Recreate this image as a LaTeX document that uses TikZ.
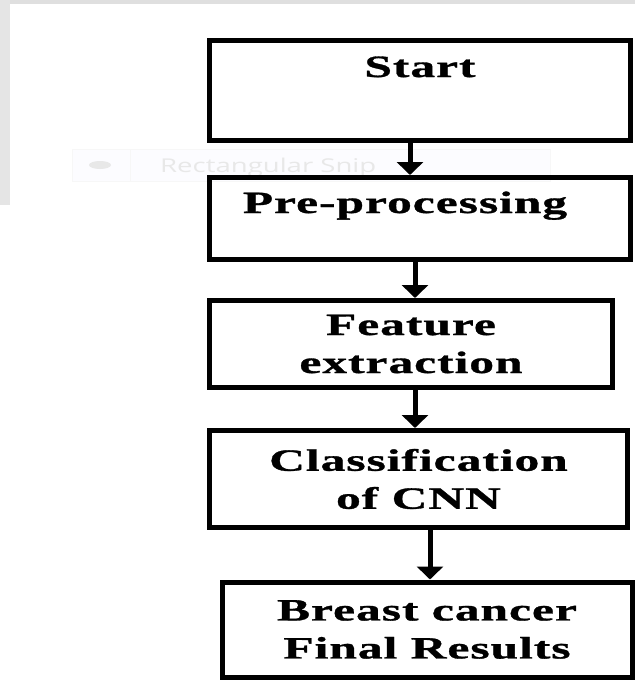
\documentclass[tikz,border=0pt]{standalone}
\usepackage{fontspec}
\setmainfont{Liberation Serif}
\newfontfamily\boxfont[FakeStretch=1.6,LetterSpace=3,FakeBold=1]{Liberation Serif}
\newfontfamily\snipfont[FakeStretch=1.45]{Open Sans}
\usetikzlibrary{arrows.meta}
\definecolor{snipgray}{HTML}{E8E8E8}
\tikzset{every picture/.style = {x=1pt, y=-1pt}}
\tikzset{stage/.style = {draw, line width=5pt, rectangle, inner sep=0, align=center,
    font=\boxfont\bfseries\fontsize{31}{38}\selectfont}}
\tikzset{flow/.style = {line width=5pt, -{Triangle[width=26pt, length=13pt]}}}

\begin{document}
\begin{tikzpicture}
  \useasboundingbox (0, 0) rectangle (635, 681);
  % leftovers of the screenshot
  \fill[gray!25] (0, 0) rectangle (635, 4);
  \fill[gray!20] (0, 0) rectangle (10, 205);
  \draw[gray!6, fill=blue!1] (72, 149) rectangle (550, 181);
  \draw[gray!6] (130, 149) -- (130, 181);
  \fill[snipgray] (100, 165) ellipse (11 and 4);
  \node[anchor=base west, inner sep=0, text=snipgray,
    font=\snipfont\fontsize{19}{19}\selectfont] (snip) at (160, 172) {Rectangular Snip};

  \node[stage, minimum width=421pt, minimum height=100pt,
    text height=21pt, text depth=48pt] (start) at (420, 90.5) {Start};
  \node[stage, minimum width=421pt, minimum height=82pt,
    text height=21pt, text depth=32pt] (prep) at (420, 218.5) {Pre-processing\hspace*{30pt}};
  \node[stage, minimum width=403pt, minimum height=87pt] (feat) at (411, 344) {Feature\\extraction};
  \node[stage, minimum width=418pt, minimum height=97pt] (cnn) at (418.5, 479) {Classification\\of CNN};
  \node[stage, minimum width=410pt, minimum height=95pt] (result) at (427, 629.5) {Breast cancer\\Final Results};

  \draw[flow] ([xshift=-10pt]start.south) -- ([xshift=-10pt]prep.north);
  \draw[flow] ([xshift=-5pt]prep.south) -- ([xshift=4pt]feat.north);
  \draw[flow] ([xshift=4pt]feat.south) -- ([xshift=-3.5pt]cnn.north);
  \draw[flow] ([xshift=11.5pt]cnn.south) -- ([xshift=3pt]result.north);
\end{tikzpicture}
\end{document}
